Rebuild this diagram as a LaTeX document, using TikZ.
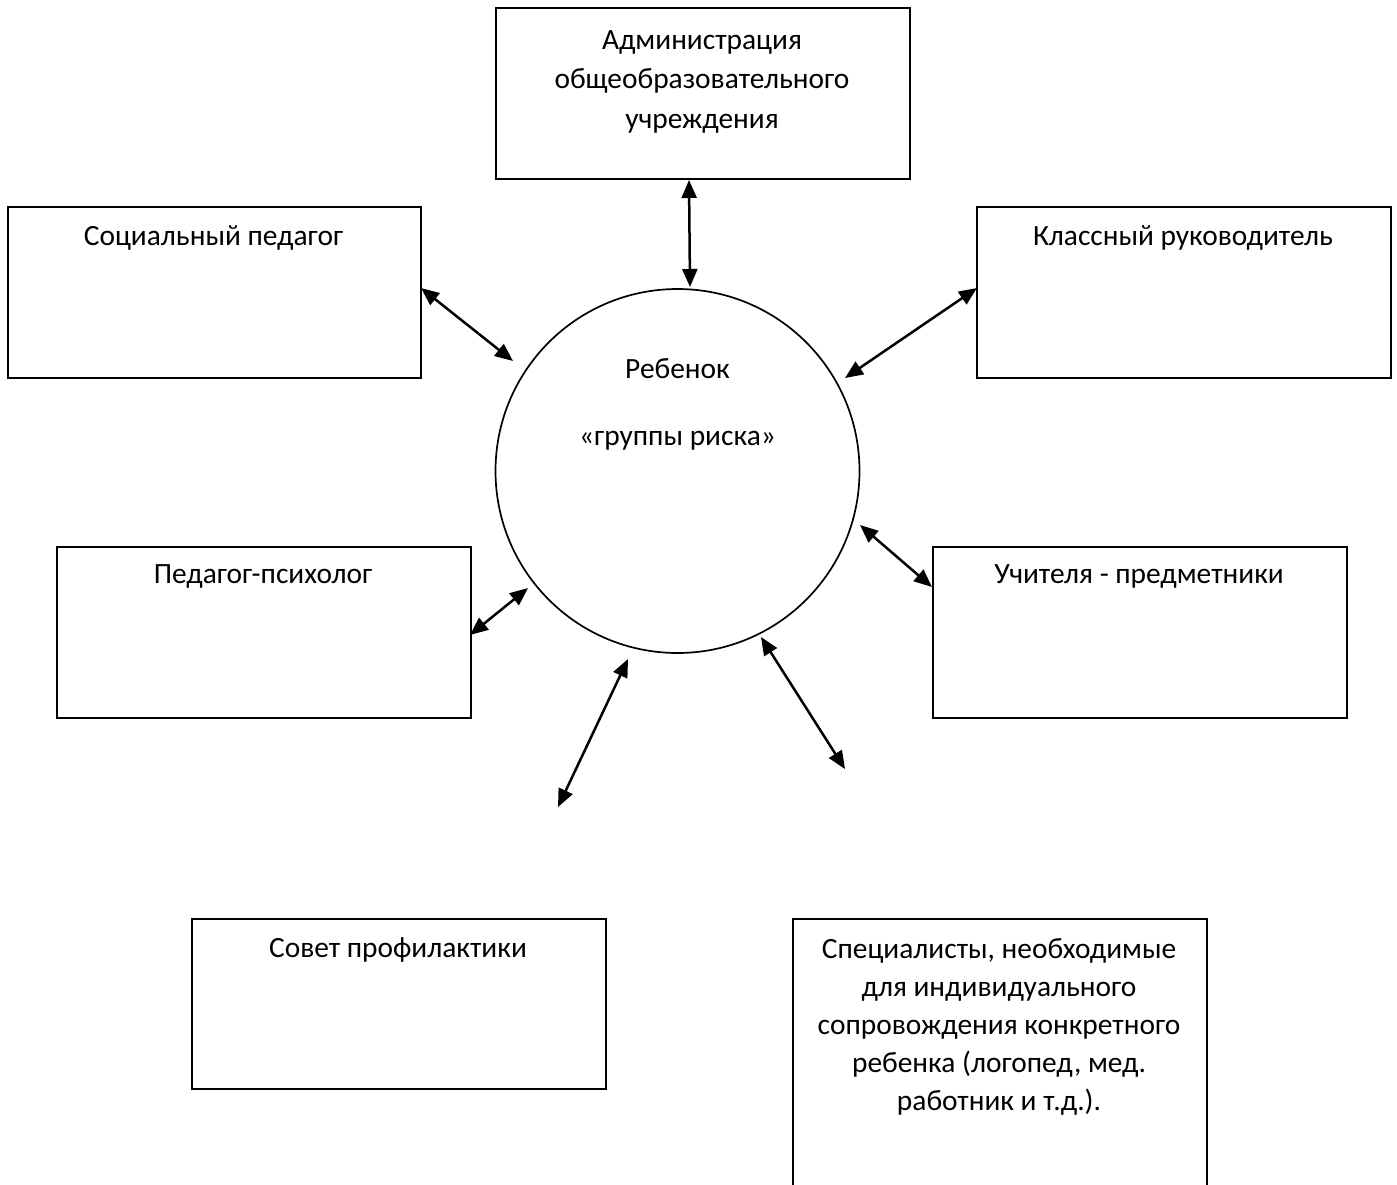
\documentclass[tikz,border=0pt]{standalone}
\usepackage{fontspec}
\setmainfont{Carlito}
\usetikzlibrary{arrows.meta}
\begin{document}
\begin{tikzpicture}[x=1pt,y=-1pt,
  box/.style={draw, line width=1.7pt, rectangle, inner sep=0pt, anchor=north west},
  lbl/.style={inner sep=0pt, anchor=base, align=center, font=\fontsize{29.4}{39.2}\selectfont},
  link/.style={line width=2.5pt, {Triangle[length=18pt,width=15pt]}-{Triangle[length=18pt,width=15pt]}}
]
\useasboundingbox (0,0) rectangle (1397,1184);
% boxes
\node[box, minimum width=414pt, minimum height=171pt] (adm) at (495,7) {};
\node[box, minimum width=413pt, minimum height=171pt] (soc) at (7,206) {};
\node[box, minimum width=414pt, minimum height=171pt] (cls) at (976,206) {};
\node[box, minimum width=414pt, minimum height=171pt] (psy) at (56,546) {};
\node[box, minimum width=414pt, minimum height=171pt] (tch) at (932,546) {};
\node[box, minimum width=414pt, minimum height=170pt] (sov) at (191,918) {};
\node[box, minimum width=414pt, minimum height=280pt] (spc) at (792,918) {};
% circle
\node[draw, circle, line width=1.7pt, minimum size=364pt, inner sep=0pt] (kid) at (677.5,471) {};
% labels (multi-line labels are anchored at the baseline of their last line)
\node[lbl] (tadm) at (702,128) {Администрация\\общеобразовательного\\учреждения};
\node[lbl] (tsoc) at (213.5,245) {Социальный педагог};
\node[lbl] (tcls) at (1183,245) {Классный руководитель};
\node[lbl] (tpsy) at (263,583) {Педагог-психолог};
\node[lbl] (ttch) at (1139,583) {Учителя - предметники};
\node[lbl] (tsov) at (398,957) {Совет профилактики};
\node[lbl, font=\fontsize{29.4}{37.8}\selectfont] (tspc) at (999,1110) {Специалисты, необходимые\\для индивидуального\\сопровождения конкретного\\ребенка (логопед, мед.\\работник и т.д.).};
\node[lbl] (tkid1) at (677.5,378) {Ребенок};
\node[lbl] (tkid2) at (677.5,445) {«группы риска»};
% arrow end points
\coordinate (a1) at (689,180);  \coordinate (a2) at (690,287);
\coordinate (b1) at (421,288);  \coordinate (b2) at (513,361);
\coordinate (c1) at (977,288);  \coordinate (c2) at (845,378);
\coordinate (d1) at (860,525);  \coordinate (d2) at (932,587);
\coordinate (e1) at (528,588);  \coordinate (e2) at (470,635);
\coordinate (f1) at (628,659);  \coordinate (f2) at (558,807);
\coordinate (g1) at (761,637);  \coordinate (g2) at (845,769);
% connectors
\draw[link] (a1) -- (a2);
\draw[link] (b1) -- (b2);
\draw[link] (c1) -- (c2);
\draw[link] (d1) -- (d2);
\draw[link] (e1) -- (e2);
\draw[link] (f1) -- (f2);
\draw[link] (g1) -- (g2);
\end{tikzpicture}
\end{document}
